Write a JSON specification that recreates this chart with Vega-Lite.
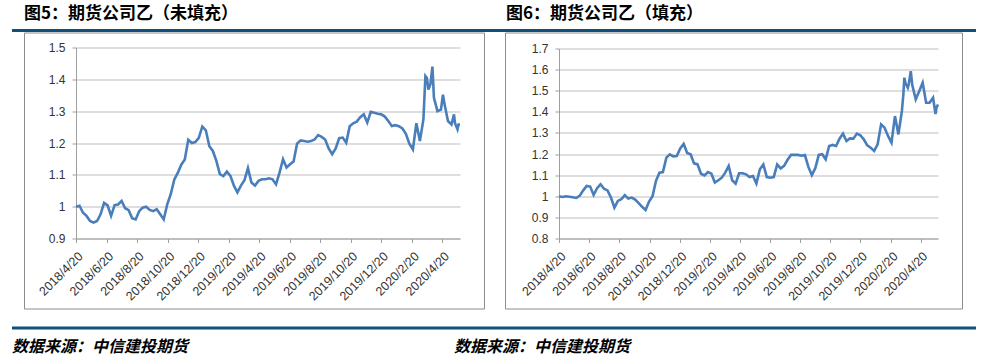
{
  "$schema": "https://vega.github.io/schema/vega-lite/v6.json",
  "background": "white",
  "padding": {"left": 10, "top": 4.5, "right": 0, "bottom": 6},
  "spacing": -2,
  "config": {
    "view": {"stroke": null},
    "font": "Noto Sans CJK SC",
    "axis": {
      "labelFont": "Liberation Sans",
      "labelFontSize": 12,
      "labelColor": "#333333",
      "domainColor": "#9f9f9f",
      "tickColor": "#9f9f9f",
      "tickSize": 4,
      "gridColor": "#bdbdbd",
      "title": null
    },
    "title": {"anchor": "start", "frame": "group", "font": "Noto Sans CJK SC", "color": "#000000", "fontWeight": "bold", "fontSize": 17}
  },
  "datasets": {
    "L": [
      {"date": "2018-04-20", "value": 1.000}, {"date": "2018-04-27", "value": 1.003}, {"date": "2018-05-04", "value": 0.981},
      {"date": "2018-05-11", "value": 0.971}, {"date": "2018-05-18", "value": 0.955}, {"date": "2018-05-25", "value": 0.950},
      {"date": "2018-06-01", "value": 0.955}, {"date": "2018-06-08", "value": 0.976}, {"date": "2018-06-15", "value": 1.012},
      {"date": "2018-06-22", "value": 1.004}, {"date": "2018-06-29", "value": 0.971}, {"date": "2018-07-06", "value": 1.005},
      {"date": "2018-07-13", "value": 1.007}, {"date": "2018-07-20", "value": 1.018}, {"date": "2018-07-27", "value": 0.995},
      {"date": "2018-08-03", "value": 0.989}, {"date": "2018-08-10", "value": 0.964}, {"date": "2018-08-17", "value": 0.960},
      {"date": "2018-08-24", "value": 0.986}, {"date": "2018-08-31", "value": 0.997}, {"date": "2018-09-07", "value": 1.000},
      {"date": "2018-09-14", "value": 0.990}, {"date": "2018-09-21", "value": 0.986}, {"date": "2018-09-28", "value": 0.992},
      {"date": "2018-10-05", "value": 0.976}, {"date": "2018-10-12", "value": 0.960}, {"date": "2018-10-19", "value": 1.007},
      {"date": "2018-10-26", "value": 1.039}, {"date": "2018-11-02", "value": 1.085}, {"date": "2018-11-09", "value": 1.106},
      {"date": "2018-11-16", "value": 1.132}, {"date": "2018-11-23", "value": 1.148}, {"date": "2018-11-30", "value": 1.210},
      {"date": "2018-12-07", "value": 1.200}, {"date": "2018-12-14", "value": 1.203}, {"date": "2018-12-21", "value": 1.216},
      {"date": "2018-12-28", "value": 1.252}, {"date": "2019-01-04", "value": 1.240}, {"date": "2019-01-11", "value": 1.190},
      {"date": "2019-01-18", "value": 1.175}, {"date": "2019-01-25", "value": 1.144}, {"date": "2019-02-01", "value": 1.102},
      {"date": "2019-02-08", "value": 1.096}, {"date": "2019-02-15", "value": 1.110}, {"date": "2019-02-22", "value": 1.097},
      {"date": "2019-03-01", "value": 1.066}, {"date": "2019-03-08", "value": 1.045}, {"date": "2019-03-15", "value": 1.066},
      {"date": "2019-03-22", "value": 1.083}, {"date": "2019-03-29", "value": 1.121}, {"date": "2019-04-05", "value": 1.076},
      {"date": "2019-04-12", "value": 1.066}, {"date": "2019-04-19", "value": 1.081}, {"date": "2019-04-26", "value": 1.086},
      {"date": "2019-05-03", "value": 1.086}, {"date": "2019-05-10", "value": 1.089}, {"date": "2019-05-17", "value": 1.086},
      {"date": "2019-05-24", "value": 1.070}, {"date": "2019-05-31", "value": 1.107}, {"date": "2019-06-07", "value": 1.149},
      {"date": "2019-06-14", "value": 1.123}, {"date": "2019-06-21", "value": 1.133}, {"date": "2019-06-28", "value": 1.142},
      {"date": "2019-07-05", "value": 1.198}, {"date": "2019-07-12", "value": 1.208}, {"date": "2019-07-19", "value": 1.206},
      {"date": "2019-07-26", "value": 1.204}, {"date": "2019-08-02", "value": 1.206}, {"date": "2019-08-09", "value": 1.211},
      {"date": "2019-08-16", "value": 1.225}, {"date": "2019-08-23", "value": 1.219}, {"date": "2019-08-30", "value": 1.211},
      {"date": "2019-09-06", "value": 1.183}, {"date": "2019-09-13", "value": 1.165}, {"date": "2019-09-20", "value": 1.183},
      {"date": "2019-09-27", "value": 1.215}, {"date": "2019-10-04", "value": 1.217}, {"date": "2019-10-11", "value": 1.201},
      {"date": "2019-10-18", "value": 1.253}, {"date": "2019-10-25", "value": 1.262}, {"date": "2019-11-01", "value": 1.267},
      {"date": "2019-11-08", "value": 1.281}, {"date": "2019-11-15", "value": 1.290}, {"date": "2019-11-22", "value": 1.264},
      {"date": "2019-11-29", "value": 1.298}, {"date": "2019-12-06", "value": 1.295}, {"date": "2019-12-13", "value": 1.292},
      {"date": "2019-12-20", "value": 1.290}, {"date": "2019-12-27", "value": 1.283}, {"date": "2020-01-03", "value": 1.269},
      {"date": "2020-01-10", "value": 1.253}, {"date": "2020-01-17", "value": 1.256}, {"date": "2020-01-24", "value": 1.253},
      {"date": "2020-01-31", "value": 1.246}, {"date": "2020-02-07", "value": 1.229}, {"date": "2020-02-14", "value": 1.198},
      {"date": "2020-02-21", "value": 1.180}, {"date": "2020-02-28", "value": 1.262}, {"date": "2020-03-06", "value": 1.206},
      {"date": "2020-03-13", "value": 1.274}, {"date": "2020-03-17", "value": 1.410}, {"date": "2020-03-20", "value": 1.404},
      {"date": "2020-03-23", "value": 1.368}, {"date": "2020-03-27", "value": 1.385}, {"date": "2020-03-31", "value": 1.440},
      {"date": "2020-04-03", "value": 1.342}, {"date": "2020-04-10", "value": 1.300}, {"date": "2020-04-17", "value": 1.305},
      {"date": "2020-04-21", "value": 1.352}, {"date": "2020-04-24", "value": 1.323}, {"date": "2020-05-01", "value": 1.269},
      {"date": "2020-05-08", "value": 1.258}, {"date": "2020-05-13", "value": 1.290}, {"date": "2020-05-15", "value": 1.262},
      {"date": "2020-05-20", "value": 1.243}, {"date": "2020-05-22", "value": 1.258}, {"date": "2020-05-25", "value": 1.258}
    ],
    "R": [
      {"date": "2018-04-20", "value": 1.000}, {"date": "2018-04-27", "value": 0.997}, {"date": "2018-05-04", "value": 1.000},
      {"date": "2018-05-11", "value": 0.998}, {"date": "2018-05-18", "value": 0.995}, {"date": "2018-05-25", "value": 0.992},
      {"date": "2018-06-01", "value": 1.003}, {"date": "2018-06-08", "value": 1.028}, {"date": "2018-06-15", "value": 1.049},
      {"date": "2018-06-22", "value": 1.046}, {"date": "2018-06-29", "value": 1.006}, {"date": "2018-07-06", "value": 1.038},
      {"date": "2018-07-13", "value": 1.057}, {"date": "2018-07-20", "value": 1.036}, {"date": "2018-07-27", "value": 1.028},
      {"date": "2018-08-03", "value": 0.994}, {"date": "2018-08-10", "value": 0.946}, {"date": "2018-08-17", "value": 0.978},
      {"date": "2018-08-24", "value": 0.986}, {"date": "2018-08-31", "value": 1.005}, {"date": "2018-09-07", "value": 0.989},
      {"date": "2018-09-14", "value": 0.994}, {"date": "2018-09-21", "value": 0.984}, {"date": "2018-09-28", "value": 0.968},
      {"date": "2018-10-05", "value": 0.950}, {"date": "2018-10-12", "value": 0.935}, {"date": "2018-10-19", "value": 0.975},
      {"date": "2018-10-26", "value": 1.000}, {"date": "2018-11-02", "value": 1.073}, {"date": "2018-11-09", "value": 1.112},
      {"date": "2018-11-16", "value": 1.115}, {"date": "2018-11-23", "value": 1.183}, {"date": "2018-11-30", "value": 1.199},
      {"date": "2018-12-07", "value": 1.189}, {"date": "2018-12-14", "value": 1.191}, {"date": "2018-12-21", "value": 1.227},
      {"date": "2018-12-28", "value": 1.248}, {"date": "2019-01-04", "value": 1.205}, {"date": "2019-01-11", "value": 1.199},
      {"date": "2019-01-18", "value": 1.156}, {"date": "2019-01-25", "value": 1.151}, {"date": "2019-02-01", "value": 1.107},
      {"date": "2019-02-08", "value": 1.099}, {"date": "2019-02-15", "value": 1.115}, {"date": "2019-02-22", "value": 1.107},
      {"date": "2019-03-01", "value": 1.065}, {"date": "2019-03-08", "value": 1.076}, {"date": "2019-03-15", "value": 1.088},
      {"date": "2019-03-22", "value": 1.112}, {"date": "2019-03-29", "value": 1.144}, {"date": "2019-04-05", "value": 1.076},
      {"date": "2019-04-12", "value": 1.060}, {"date": "2019-04-19", "value": 1.109}, {"date": "2019-04-26", "value": 1.109},
      {"date": "2019-05-03", "value": 1.104}, {"date": "2019-05-10", "value": 1.091}, {"date": "2019-05-17", "value": 1.096},
      {"date": "2019-05-24", "value": 1.060}, {"date": "2019-05-31", "value": 1.128}, {"date": "2019-06-07", "value": 1.151},
      {"date": "2019-06-14", "value": 1.091}, {"date": "2019-06-21", "value": 1.088}, {"date": "2019-06-28", "value": 1.091},
      {"date": "2019-07-05", "value": 1.151}, {"date": "2019-07-12", "value": 1.132}, {"date": "2019-07-19", "value": 1.144},
      {"date": "2019-07-26", "value": 1.173}, {"date": "2019-08-02", "value": 1.196}, {"date": "2019-08-09", "value": 1.196},
      {"date": "2019-08-16", "value": 1.196}, {"date": "2019-08-23", "value": 1.192}, {"date": "2019-08-30", "value": 1.195},
      {"date": "2019-09-06", "value": 1.139}, {"date": "2019-09-13", "value": 1.100}, {"date": "2019-09-20", "value": 1.133},
      {"date": "2019-09-27", "value": 1.196}, {"date": "2019-10-04", "value": 1.199}, {"date": "2019-10-11", "value": 1.175},
      {"date": "2019-10-18", "value": 1.238}, {"date": "2019-10-25", "value": 1.243}, {"date": "2019-11-01", "value": 1.238},
      {"date": "2019-11-08", "value": 1.273}, {"date": "2019-11-15", "value": 1.297}, {"date": "2019-11-22", "value": 1.262},
      {"date": "2019-11-29", "value": 1.274}, {"date": "2019-12-06", "value": 1.273}, {"date": "2019-12-13", "value": 1.297},
      {"date": "2019-12-20", "value": 1.289}, {"date": "2019-12-27", "value": 1.270}, {"date": "2020-01-03", "value": 1.241},
      {"date": "2020-01-10", "value": 1.230}, {"date": "2020-01-17", "value": 1.215}, {"date": "2020-01-24", "value": 1.246},
      {"date": "2020-01-31", "value": 1.341}, {"date": "2020-02-07", "value": 1.325}, {"date": "2020-02-14", "value": 1.286},
      {"date": "2020-02-21", "value": 1.254}, {"date": "2020-02-28", "value": 1.380}, {"date": "2020-03-06", "value": 1.293},
      {"date": "2020-03-13", "value": 1.404}, {"date": "2020-03-16", "value": 1.483}, {"date": "2020-03-18", "value": 1.562},
      {"date": "2020-03-20", "value": 1.538}, {"date": "2020-03-25", "value": 1.514}, {"date": "2020-03-27", "value": 1.533},
      {"date": "2020-03-31", "value": 1.593}, {"date": "2020-04-03", "value": 1.527}, {"date": "2020-04-10", "value": 1.459},
      {"date": "2020-04-17", "value": 1.498}, {"date": "2020-04-24", "value": 1.538}, {"date": "2020-05-01", "value": 1.443},
      {"date": "2020-05-08", "value": 1.443}, {"date": "2020-05-15", "value": 1.467}, {"date": "2020-05-20", "value": 1.390},
      {"date": "2020-05-22", "value": 1.420}, {"date": "2020-05-25", "value": 1.435}
    ]
  },
  "vconcat": [
    {
      "spacing": 0,
      "bounds": "flush",
      "hconcat": [
        {
          "width": 12, "height": 2,
          "data": {"values": [{}]},
          "mark": {"type": "rule", "color": "#12507a", "strokeWidth": 3},
          "encoding": {"y": {"datum": 0.5, "type": "quantitative", "scale": {"domain": [0, 1]}, "axis": null}}
        },
        {
          "width": 469, "height": 2,
          "data": {"values": [{}]},
          "title": {"text": "图5：期货公司乙（未填充）", "offset": 6},
          "mark": {"type": "rule", "color": "#12507a", "strokeWidth": 3},
          "encoding": {"y": {"datum": 0.5, "type": "quantitative", "scale": {"domain": [0, 1]}, "axis": null}}
        },
        {
          "width": 13, "height": 2,
          "data": {"values": [{}]},
          "mark": {"type": "rule", "color": "#12507a", "strokeWidth": 3},
          "encoding": {"y": {"datum": 0.5, "type": "quantitative", "scale": {"domain": [0, 1]}, "axis": null}}
        },
        {
          "width": 470, "height": 2,
          "data": {"values": [{}]},
          "title": {"text": "图6：期货公司乙（填充）", "offset": 6},
          "mark": {"type": "rule", "color": "#12507a", "strokeWidth": 3},
          "encoding": {"y": {"datum": 0.5, "type": "quantitative", "scale": {"domain": [0, 1]}, "axis": null}}
        }
      ]
    },
    {
      "spacing": 0,
      "bounds": "flush",
      "hconcat": [
        {"width": 12, "height": 276, "data": {"values": []}, "mark": "point"},
        {
          "width": 460, "height": 276,
          "view": {"stroke": "#8c8c8c", "strokeWidth": 1},
          "data": {"name": "L"},
          "mark": {"type": "line", "color": "#4a7ebb", "strokeWidth": 2.6},
          "encoding": {
            "x": {
              "field": "date", "type": "temporal",
              "scale": {"type": "utc", "domain": [{"year": 2018, "month": 4, "date": 20, "utc": true}, {"year": 2020, "month": 5, "date": 25, "utc": true}], "range": [52, 436]},
              "axis": {
                "values": [
                  {"year": 2018, "month": 4, "date": 20, "utc": true}, {"year": 2018, "month": 6, "date": 20, "utc": true},
                  {"year": 2018, "month": 8, "date": 20, "utc": true}, {"year": 2018, "month": 10, "date": 20, "utc": true},
                  {"year": 2018, "month": 12, "date": 20, "utc": true}, {"year": 2019, "month": 2, "date": 20, "utc": true},
                  {"year": 2019, "month": 4, "date": 20, "utc": true}, {"year": 2019, "month": 6, "date": 20, "utc": true},
                  {"year": 2019, "month": 8, "date": 20, "utc": true}, {"year": 2019, "month": 10, "date": 20, "utc": true},
                  {"year": 2019, "month": 12, "date": 20, "utc": true}, {"year": 2020, "month": 2, "date": 20, "utc": true},
                  {"year": 2020, "month": 4, "date": 20, "utc": true}
                ],
                "labelExpr": "utcFormat(datum.value, '%Y/%-m/%-d')",
                "labelAngle": -45, "labelFontSize": 12.5, "labelPadding": 7, "labelOverlap": false, "labelFlush": false, "labelBound": false,
                "grid": false, "offset": -70
              }
            },
            "y": {
              "field": "value", "type": "quantitative",
              "scale": {"domain": [0.9, 1.5], "range": [206, 15], "zero": false, "nice": false},
              "axis": {"values": [0.9, 1.0, 1.1, 1.2, 1.3, 1.4, 1.5], "format": ".1~f", "grid": true, "offset": -52, "labelPadding": 7, "labelFlush": false}
            }
          }
        },
        {"width": 21, "height": 276, "data": {"values": []}, "mark": "point"},
        {
          "width": 457, "height": 276,
          "view": {"stroke": "#8c8c8c", "strokeWidth": 1},
          "data": {"name": "R"},
          "mark": {"type": "line", "color": "#4a7ebb", "strokeWidth": 2.6},
          "encoding": {
            "x": {
              "field": "date", "type": "temporal",
              "scale": {"type": "utc", "domain": [{"year": 2018, "month": 4, "date": 20, "utc": true}, {"year": 2020, "month": 5, "date": 25, "utc": true}], "range": [54, 433]},
              "axis": {
                "values": [
                  {"year": 2018, "month": 4, "date": 20, "utc": true}, {"year": 2018, "month": 6, "date": 20, "utc": true},
                  {"year": 2018, "month": 8, "date": 20, "utc": true}, {"year": 2018, "month": 10, "date": 20, "utc": true},
                  {"year": 2018, "month": 12, "date": 20, "utc": true}, {"year": 2019, "month": 2, "date": 20, "utc": true},
                  {"year": 2019, "month": 4, "date": 20, "utc": true}, {"year": 2019, "month": 6, "date": 20, "utc": true},
                  {"year": 2019, "month": 8, "date": 20, "utc": true}, {"year": 2019, "month": 10, "date": 20, "utc": true},
                  {"year": 2019, "month": 12, "date": 20, "utc": true}, {"year": 2020, "month": 2, "date": 20, "utc": true},
                  {"year": 2020, "month": 4, "date": 20, "utc": true}
                ],
                "labelExpr": "utcFormat(datum.value, '%Y/%-m/%-d')",
                "labelAngle": -45, "labelFontSize": 12.5, "labelPadding": 7, "labelOverlap": false, "labelFlush": false, "labelBound": false,
                "grid": false, "offset": -70
              }
            },
            "y": {
              "field": "value", "type": "quantitative",
              "scale": {"domain": [0.8, 1.7], "range": [206, 16], "zero": false, "nice": false},
              "axis": {"values": [0.8, 0.9, 1.0, 1.1, 1.2, 1.3, 1.4, 1.5, 1.6, 1.7], "format": ".1~f", "grid": true, "offset": -54, "labelPadding": 7, "labelFlush": false}
            }
          }
        }
      ]
    },
    {
      "spacing": 0,
      "bounds": "flush",
      "hconcat": [
        {
          "width": 442, "height": 18.5,
          "data": {"values": [{}]},
          "title": {"text": "数据来源：中信建投期货", "orient": "bottom", "offset": 9, "fontSize": 16, "fontStyle": "italic"},
          "mark": {"type": "rule", "color": "#12507a", "strokeWidth": 3},
          "encoding": {"y": {"datum": 0, "type": "quantitative", "scale": {"domain": [0, 1]}, "axis": null}}
        },
        {
          "width": 522, "height": 18.5,
          "data": {"values": [{}]},
          "title": {"text": "数据来源：中信建投期货", "orient": "bottom", "offset": 9, "fontSize": 16, "fontStyle": "italic"},
          "mark": {"type": "rule", "color": "#12507a", "strokeWidth": 3},
          "encoding": {"y": {"datum": 0, "type": "quantitative", "scale": {"domain": [0, 1]}, "axis": null}}
        }
      ]
    }
  ]
}
